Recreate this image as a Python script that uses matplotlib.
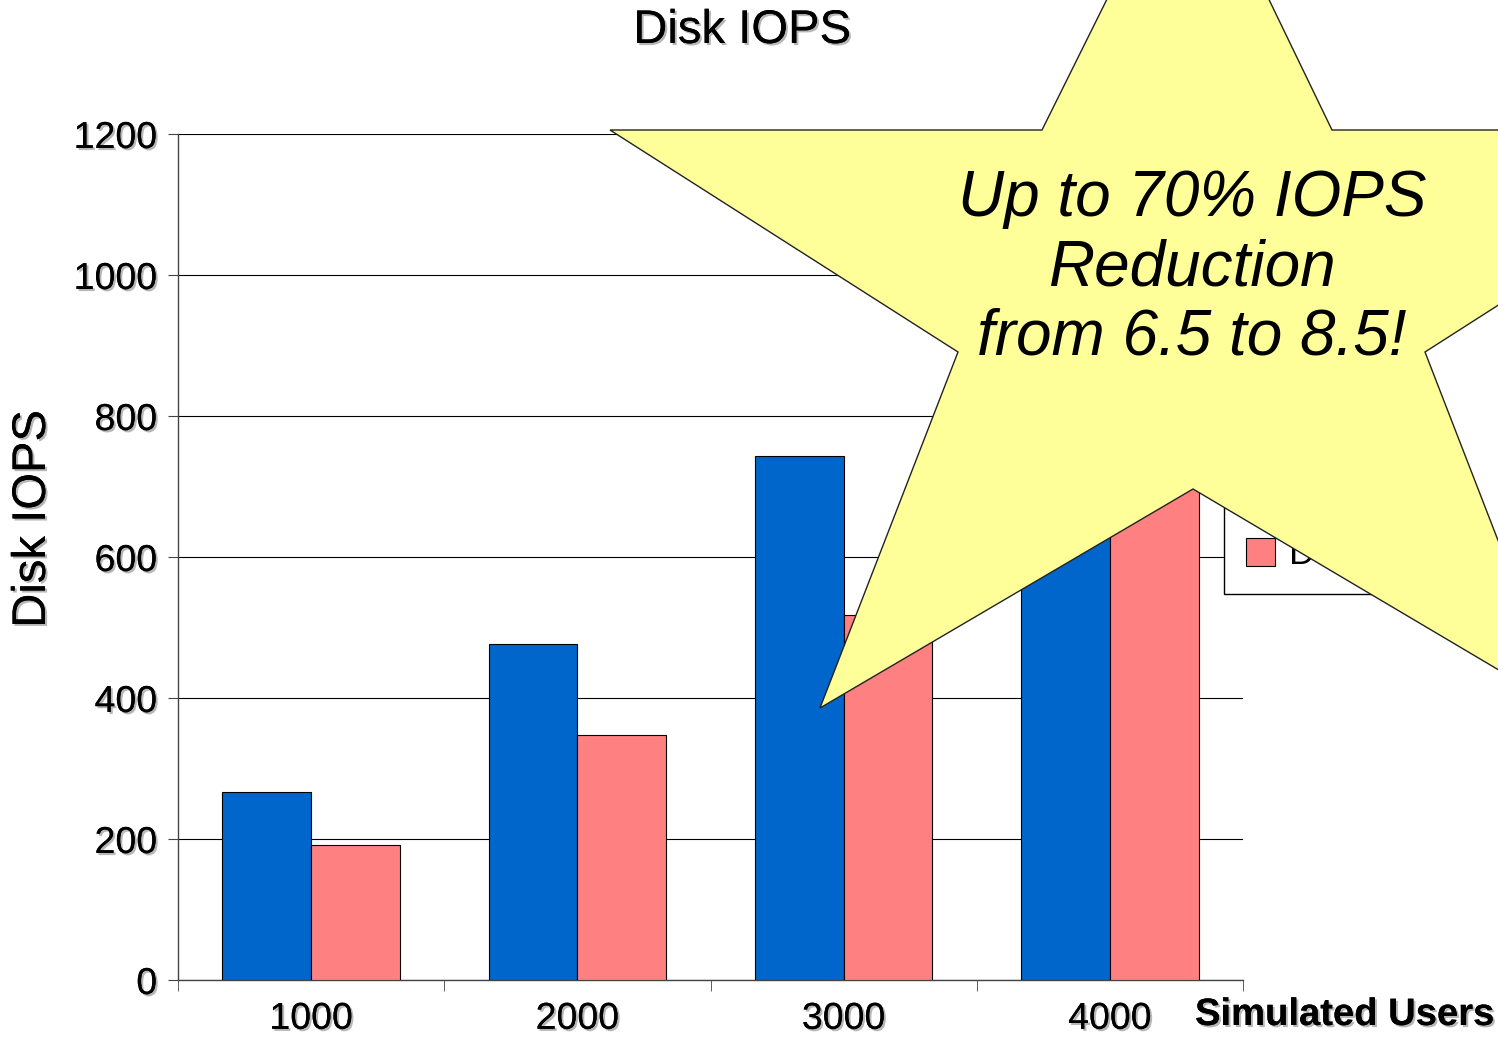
import matplotlib
matplotlib.use("Agg")
import matplotlib.pyplot as plt
import matplotlib.patheffects as pe
from matplotlib.patches import Polygon, Patch
import numpy as np

plt.rcParams['font.family'] = ['Liberation Sans', 'DejaVu Sans']

# data (4000-user bars are mostly hidden by the star, estimated)
users = ['1000', '2000', '3000', '4000']
iops_old = [266, 476, 743, 1010]
iops_new = [191, 347, 518, 720]
series_names = ['DS 6.5', 'DS 8.5']
colors = ['#0066CC', '#FF8080']

W, H = 1498, 1038
fig = plt.figure(figsize=(W / 100, H / 100), dpi=100)
ax = fig.add_axes([178 / W, 1 - 980 / H, (1243 - 178) / W, (980 - 134) / H])

shadow = [pe.withSimplePatchShadow(offset=(1.5, -1.5), shadow_rgbFace='#888888', alpha=0.6), pe.Normal()]

x = np.arange(len(users))
w = 1 / 3
ax.bar(x - w / 2, iops_old, w, color=colors[0], edgecolor='black', linewidth=0.8, zorder=3, label=series_names[0])
ax.bar(x + w / 2, iops_new, w, color=colors[1], edgecolor='black', linewidth=0.8, zorder=3, label=series_names[1])

ax.set_xlim(-0.5, 3.5)
ax.set_ylim(0, 1200)
ax.set_yticks(range(0, 1201, 200))
ax.yaxis.grid(True, color='black', linewidth=0.8)
ax.set_axisbelow(True)
for s in ['top', 'right']:
    ax.spines[s].set_visible(False)
for s in ['left', 'bottom']:
    ax.spines[s].set_color('#444444')
    ax.spines[s].set_linewidth(1)

ax.set_xticks(x, users)
ax.set_xticks(np.arange(-0.5, 4, 1), minor=True)
ax.tick_params(axis='x', which='major', length=0, pad=15, labelsize=27)
ax.tick_params(axis='x', which='minor', length=8, color='#444444')
ax.tick_params(axis='y', length=7, pad=8, labelsize=27, color='#444444')
for lab in ax.get_xticklabels() + ax.get_yticklabels():
    lab.set_path_effects(shadow)

handles = [Patch(facecolor=c, edgecolor='black', linewidth=0.8) for c in colors]
leg = ax.legend(handles, series_names, loc='upper left',
                bbox_to_anchor=(1224 / W, 1 - 468 / H), bbox_transform=fig.transFigure,
                borderaxespad=0, fontsize=26, handlelength=0.8, handleheight=0.8,
                handletextpad=0.4, borderpad=0.6, labelspacing=0.35,
                frameon=True, fancybox=False, edgecolor='black', framealpha=1)
leg.get_frame().set_linewidth(1)

fig.text(742 / W, 1 - 31 / H, 'Disk IOPS', ha='center', va='center', fontsize=34, path_effects=shadow)
fig.text(33 / W, 1 - 519 / H, 'Disk IOPS', ha='center', va='center', rotation=90, fontsize=34, path_effects=shadow)
fig.text(1195 / W, 1 - 1015 / H, 'Simulated Users', ha='left', va='center', fontsize=27.5,
         fontweight='bold', path_effects=shadow)

# call-out star (figure pixel coordinates)
star_px = [(1189, -166), (1332, 130), (1772, 130), (1425, 352), (1563, 708),
           (1193, 489), (820, 708), (958, 352), (610, 130), (1042, 130)]
star = Polygon([(px / W, 1 - py / H) for px, py in star_px], closed=True,
               transform=fig.transFigure, facecolor='#FFFF99', edgecolor='#222222',
               linewidth=1, zorder=10, clip_on=False)
fig.patches.append(star)
fig.text(1192 / W, 1 - 268 / H, 'Up to 70% IOPS\nReduction\nfrom 6.5 to 8.5!', ha='center', va='center',
         fontsize=46, style='italic', linespacing=1.2, zorder=11)

fig.savefig('out.png', dpi=100)
